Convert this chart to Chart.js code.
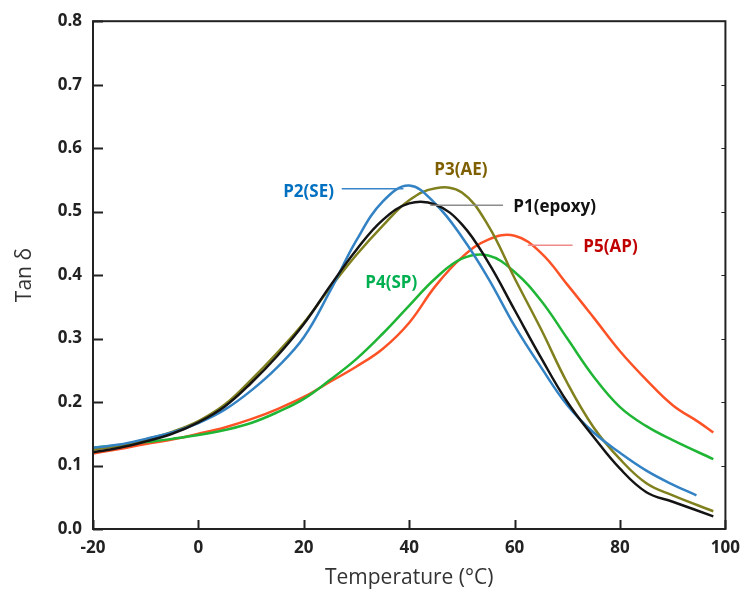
<!DOCTYPE html>
<html>
<head>
<meta charset="utf-8">
<script src="https://cdn.jsdelivr.net/npm/chart.js@4/dist/chart.umd.min.js"></script>
<style>
  html, body { margin: 0; padding: 0; background: #fff; }
  #wrap { width: 749px; height: 597px; }
</style>
</head>
<body>
<div id="wrap"><canvas id="tanChart" width="749" height="597"></canvas></div>
<script>
// temperatures (°C) and tan delta readings per sample
const tP1 = [-20, -15, -10, -5, 0, 5, 10, 15, 20, 25, 30, 35, 40, 45, 50, 55, 60, 65, 70, 75, 80, 85, 90, 97.7];
const vP1 = [0.121, 0.128, 0.138, 0.150, 0.168, 0.193, 0.230, 0.273, 0.323, 0.383, 0.440, 0.487, 0.513, 0.511, 0.480, 0.420, 0.345, 0.270, 0.200, 0.145, 0.095, 0.058, 0.043, 0.020];

const tP2 = [-20, -15, -10, -5, 0, 5, 10, 15, 20, 25, 30, 35, 40, 45, 50, 55, 60, 65, 70, 75, 80, 85, 90, 94.5];
const vP2 = [0.128, 0.133, 0.142, 0.152, 0.167, 0.188, 0.218, 0.255, 0.302, 0.375, 0.455, 0.516, 0.541, 0.512, 0.460, 0.395, 0.320, 0.255, 0.195, 0.152, 0.120, 0.092, 0.070, 0.053];

const tP3 = [-20, -15, -10, -5, 0, 5, 10, 15, 20, 25, 30, 35, 40, 45, 50, 55, 60, 65, 70, 75, 80, 85, 90, 97.7];
const vP3 = [0.125, 0.131, 0.141, 0.153, 0.170, 0.196, 0.235, 0.278, 0.325, 0.380, 0.432, 0.478, 0.518, 0.537, 0.530, 0.478, 0.395, 0.315, 0.230, 0.160, 0.110, 0.072, 0.053, 0.028];

const tP4 = [-20, -15, -10, -5, 0, 5, 10, 15, 20, 25, 30, 35, 40, 45, 50, 55, 60, 65, 70, 75, 80, 85, 90, 97.7];
const vP4 = [0.128, 0.132, 0.137, 0.142, 0.148, 0.156, 0.167, 0.184, 0.205, 0.235, 0.268, 0.308, 0.352, 0.395, 0.426, 0.431, 0.405, 0.360, 0.300, 0.240, 0.192, 0.162, 0.140, 0.110];

const tP5 = [-20, -15, -10, -5, 0, 5, 10, 15, 20, 25, 30, 35, 40, 45, 50, 55, 60, 65, 70, 75, 80, 85, 90, 95, 97.7];
const vP5 = [0.119, 0.126, 0.134, 0.141, 0.150, 0.160, 0.173, 0.189, 0.208, 0.232, 0.256, 0.284, 0.325, 0.383, 0.428, 0.456, 0.462, 0.435, 0.385, 0.333, 0.280, 0.235, 0.195, 0.168, 0.152];

const seriesNames = ['P1(epoxy)', 'P2(SE)', 'P3(AE)', 'P4(SP)', 'P5(AP)'];
const yTicks = [0, 0.1, 0.2, 0.3, 0.4, 0.5, 0.6, 0.7, 0.8];
const xTicks = [-20, 0, 20, 40, 60, 80, 100];

// curve labels: [text, x, y] in data units, plus leader line [x1, x2, y]
const labelText = ['P2(SE)', 'P3(AE)', 'P1(epoxy)', 'P4(SP)', 'P5(AP)'];
const labelX = [20.9, 49.8, 67.6, 36.6, 78.2];
const labelY = [0.530, 0.566, 0.507, 0.388, 0.444];
const leaderX1 = [27.2, null, 44.0, null, 62.5];
const leaderX2 = [38.9, null, 57.8, null, 71.0];
const leaderY = [0.536, null, 0.510, null, 0.447];

const lineColors = ['#141414', '#3282c4', '#80801e', '#1fb535', '#fc5226'];
const labelColors = ['#0070c0', '#7f6000', '#111111', '#00b050', '#c00000'];
const leaderColors = ['#3a86c8', null, '#8c8c8c', null, '#f08a8a'];

const FONT = '"Open Sans", sans-serif';

function pts(ts, vs) {
    return ts.map((t, i) => ({ x: t, y: vs[i] }));
}

const frameAndTicks = {
    id: 'frameAndTicks',
    afterDraw(chart) {
        const ctx = chart.ctx;
        const a = chart.chartArea;
        const xs = chart.scales.x, ys = chart.scales.y;
        ctx.save();
        ctx.strokeStyle = '#222';
        ctx.lineWidth = 2;
        ctx.strokeRect(a.left, a.top, a.right - a.left, a.bottom - a.top);
        ctx.beginPath();
        yTicks.forEach(v => {
            const y = Math.round(ys.getPixelForValue(v)) + 0.5;
            ctx.moveTo(a.left, y); ctx.lineTo(a.left + 10, y);
        });
        xTicks.forEach(v => {
            const x = Math.round(xs.getPixelForValue(v)) + 0.5;
            ctx.moveTo(x, a.bottom); ctx.lineTo(x, a.bottom - 9);
        });
        ctx.stroke();
        ctx.lineWidth = 1;
        ctx.beginPath();
        yTicks.forEach(v => {
            const y = Math.round(ys.getPixelForValue(v)) + 0.5;
            ctx.moveTo(a.right, y); ctx.lineTo(a.right - 4, y);
        });
        ctx.stroke();
        ctx.restore();
    }
};

const curveLabels = {
    id: 'curveLabels',
    afterDatasetsDraw(chart) {
        const ctx = chart.ctx;
        const xs = chart.scales.x, ys = chart.scales.y;
        ctx.save();
        labelText.forEach((txt, i) => {
            if (leaderX1[i] !== null) {
                ctx.strokeStyle = leaderColors[i];
                ctx.lineWidth = 1.5;
                ctx.beginPath();
                const ly = ys.getPixelForValue(leaderY[i]);
                ctx.moveTo(xs.getPixelForValue(leaderX1[i]), ly);
                ctx.lineTo(xs.getPixelForValue(leaderX2[i]), ly);
                ctx.stroke();
            }
            ctx.fillStyle = labelColors[i];
            ctx.font = 'bold 17px ' + FONT;
            ctx.textAlign = 'center';
            ctx.textBaseline = 'middle';
            ctx.fillText(txt, xs.getPixelForValue(labelX[i]), ys.getPixelForValue(labelY[i]));
        });
        ctx.restore();
    }
};

const allT = [tP1, tP2, tP3, tP4, tP5];
const allV = [vP1, vP2, vP3, vP4, vP5];

new Chart(document.getElementById('tanChart').getContext('2d'), {
    type: 'line',
    data: {
        datasets: seriesNames.map((name, i) => ({
            label: name,
            data: pts(allT[i], allV[i]),
            borderColor: lineColors[i],
            backgroundColor: lineColors[i],
            borderWidth: 2.5,
            pointRadius: 0,
            tension: 0.4,
            fill: false
        }))
    },
    options: {
        responsive: false,
        animation: false,
        layout: { padding: { top: 19, right: 19, left: 0, bottom: 0 } },
        plugins: { legend: { display: false }, tooltip: { enabled: false } },
        scales: {
            x: {
                type: 'linear', min: -20, max: 100,
                afterBuildTicks: s => { s.ticks = xTicks.map(v => ({ value: v })); },
                afterFit: s => { s.height = 68; },
                grid: { display: false, drawTicks: false },
                border: { display: false },
                ticks: { padding: 9, color: '#222', font: { family: FONT, size: 17, weight: 'bold' }, maxRotation: 0 },
                title: { display: true, text: 'Temperature (°C)', color: '#333', padding: { top: 4, bottom: 6 }, font: { family: FONT, size: 21 } }
            },
            y: {
                min: 0, max: 0.8,
                afterBuildTicks: s => { s.ticks = yTicks.map(v => ({ value: v })); },
                afterFit: s => { s.width = 93; },
                grid: { display: false, drawTicks: false },
                border: { display: false },
                ticks: { padding: 11, color: '#222', font: { family: FONT, size: 17, weight: 'bold' }, callback: v => v.toFixed(1) },
                title: { display: true, text: 'Tan δ', color: '#333', padding: { top: 12, bottom: 0 }, font: { family: FONT, size: 21 } }
            }
        }
    },
    plugins: [frameAndTicks, curveLabels]
});
</script>
</body>
</html>
